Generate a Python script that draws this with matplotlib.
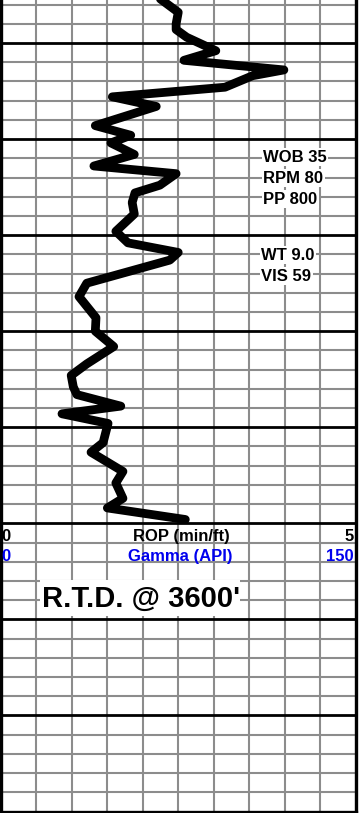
import numpy as np
import matplotlib
matplotlib.use("Agg")
import matplotlib.pyplot as plt
from matplotlib.patches import Rectangle

plt.rcParams['font.family'] = ['Liberation Sans', 'DejaVu Sans']

# ROP log (min/ft) against measured depth (ft)
depth = [3323, 3334, 3340, 3343, 3347, 3354, 3359, 3364, 3367, 3373,
         3378, 3383, 3393, 3398, 3402, 3408, 3414, 3418, 3424, 3428,
         3433, 3439, 3448, 3454, 3459, 3463, 3475, 3482, 3493, 3500,
         3508, 3517, 3523, 3529, 3533, 3539, 3543, 3548, 3558, 3563,
         3573, 3579, 3587, 3592, 3598]
rop = [2.10, 2.50, 2.47, 2.47, 2.62, 3.03, 2.58, 3.99, 3.55, 3.16,
       1.57, 2.19, 1.33, 1.83, 1.55, 1.88, 1.31, 2.47, 2.24, 1.89,
       1.85, 1.88, 1.62, 1.79, 2.50, 2.38, 1.21, 1.10, 1.34, 1.33,
       1.59, 1.21, 0.99, 1.02, 1.07, 1.69, 0.86, 1.51, 1.44, 1.27,
       1.72, 1.62, 1.72, 1.50, 2.60]

# drilling parameters
params_upper = ["WOB 35", "RPM 80", "PP 800"]
params_upper_depth = [3409.4, 3420.3, 3431.3]
params_mud = ["WT 9.0", "VIS 59"]
params_mud_depth = [3460.4, 3471.4]

td_depth = 3600
rop_range = (0, 5)
gamma_range = (0, 150)

fig = plt.figure(figsize=(3.59, 8.13), dpi=100)
ax = fig.add_axes([1 / 359, 1.5 / 813, 354.5 / 359, 811.5 / 813])
ax.set_xlim(*rop_range)
ax.set_ylim(3750, 3327.6)

# chart paper grid
ax.set_xticks(np.arange(0, 5.01, 0.5))
ax.set_yticks(np.arange(3350, 3751, 50))
ax.set_yticks(np.arange(3330, 3751, 10), minor=True)
ax.grid(axis='x', which='major', color='#8c8c8c', lw=1.5)
ax.grid(axis='y', which='minor', color='#8c8c8c', lw=1.5)
ax.grid(axis='y', which='major', color='black', lw=2.0)
ax.set_axisbelow(True)
ax.tick_params(which='both', length=0, labelleft=False, labelbottom=False)
ax.spines['top'].set_visible(False)
for s in ['left', 'right', 'bottom']:
    ax.spines[s].set_linewidth(2.4)
    ax.spines[s].set_color('black')

ax.plot(rop, depth, color='black', lw=6.3, solid_joinstyle='round',
        solid_capstyle='round', zorder=3, clip_on=True)

fs = 12
box = dict(boxstyle='square,pad=0.08', fc='white', ec='none')
for txt, d in zip(params_upper, params_upper_depth):
    ax.text(3.70, d, txt, fontsize=fs, fontweight='bold', ha='left',
            va='center', bbox=box, zorder=4)
for txt, d in zip(params_mud, params_mud_depth):
    ax.text(3.67, d, txt, fontsize=fs, fontweight='bold', ha='left',
            va='center', bbox=box, zorder=4)

# track header
ax.text(0.01, 3607.0, str(rop_range[0]), fontsize=fs, fontweight='bold',
        ha='left', va='center', zorder=4)
ax.text(2.54, 3607.0, "ROP (min/ft)", fontsize=fs, fontweight='bold',
        ha='center', va='center', zorder=4)
ax.text(4.97, 3607.0, str(rop_range[1]), fontsize=fs, fontweight='bold',
        ha='right', va='center', zorder=4)
ax.text(0.01, 3617.4, str(gamma_range[0]), fontsize=fs, fontweight='bold',
        color='#0000ee', ha='left', va='center', zorder=4)
ax.text(2.53, 3617.4, "Gamma (API)", fontsize=fs, fontweight='bold',
        color='#0000ee', ha='center', va='center', zorder=4)
ax.text(4.97, 3617.4, str(gamma_range[1]), fontsize=fs, fontweight='bold',
        color='#0000ee', ha='right', va='center', zorder=4)

ax.add_patch(Rectangle((0.55, 3629.7), 2.82, 18.3, fc='white', ec='none',
                       zorder=3))
ax.text(0.58, 3639.5, "R.T.D. @ %d'" % td_depth, fontsize=21,
        fontweight='bold', ha='left', va='center', zorder=4)

fig.savefig("out.png", dpi=100)
